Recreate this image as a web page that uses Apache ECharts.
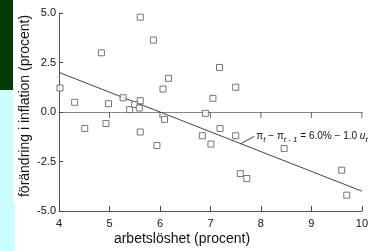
<!DOCTYPE html>
<html>
<head>
<meta charset="utf-8">
<script src="https://cdn.jsdelivr.net/npm/echarts@6/dist/echarts.min.js"></script>
<style>
  html, body { margin: 0; padding: 0; background: #fff; }
  #main { width: 371px; height: 251px; }
</style>
</head>
<body>
<div id="main"></div>
<script>
// arbetslöshet (procent) vs förändring i inflation (procent)
const unemployment = [4.02, 4.31, 4.51, 4.84, 4.93, 4.98, 5.27, 5.40, 5.50, 5.59, 5.61, 5.61, 5.61, 5.87, 5.94, 6.06,
  6.09, 6.17, 6.84, 6.90, 7.01, 7.05, 7.18, 7.19, 7.50, 7.50, 7.59, 7.72, 8.46, 9.60, 9.70]
const inflationChange = [1.21, 0.49, -0.83, 2.99, -0.58, 0.42, 0.72, 0.12, 0.38, 0.20, 0.57, 4.79, -1.01, 3.63, -1.69, 1.16,
  -0.37, 1.70, -1.20, -0.07, -1.62, 0.69, 2.25, -0.83, 1.25, -1.20, -3.11, -3.36, -1.84, -2.94, -4.20]
// regression: pi_t - pi_t-1 = 6.0% - 1.0 u_t
const fitX = [4, 10]
const fitY = [2.0, -4.0]
// leader from the line to the equation
const leaderX = [7.6, 7.87]
const leaderY = [-1.6, -1.23]
// tick marks hanging below the zero line
const zeroTicks = [5, 6, 7, 8, 9, 10]

const FONT = 'Liberation Sans, Arial, sans-serif'
const zip = (a, b) => a.map((v, i) => [v, b[i]])

const chart = echarts.init(document.getElementById('main'))
chart.setOption({
  animation: false,
  backgroundColor: '#fff',
  grid: { left: 59, right: 7, top: 13, bottom: 40 },
  graphic: [
    { type: 'rect', left: 0, top: 0, shape: { width: 13, height: 90 }, style: { fill: '#033a05' } },
    { type: 'rect', left: 0, top: 90, shape: { width: 13, height: 161 }, style: { fill: '#ccfdff' } },
    { type: 'rect', left: 13, top: 203, shape: { width: 2, height: 48 }, style: { fill: '#ccfdff' } },
    {
      type: 'text', x: 182, y: 239,
      style: { text: 'arbetslöshet (procent)', fontSize: 14, fontFamily: FONT, fill: '#111', align: 'center', verticalAlign: 'middle' }
    },
    {
      type: 'text', x: 25, y: 106, rotation: Math.PI / 2,
      style: { text: 'förändring i inflation (procent)', fontSize: 14, fontFamily: FONT, fill: '#111', align: 'center', verticalAlign: 'middle' }
    }
  ],
  xAxis: [
    {
      type: 'value', min: 4, max: 10, interval: 1, position: 'bottom',
      axisLine: { onZero: false, lineStyle: { color: '#555', width: 1 } },
      axisTick: { inside: true, length: 5, lineStyle: { color: '#444' } },
      axisLabel: { color: '#111', fontSize: 11, fontFamily: FONT, margin: 7 },
      splitLine: { show: false }
    },
    {
      type: 'value', min: 4, max: 10, interval: 1, position: 'top',
      axisLine: { onZero: true, lineStyle: { color: '#888', width: 1.2 } },
      axisTick: { show: false },
      axisLabel: { show: false },
      splitLine: { show: false }
    }
  ],
  yAxis: {
    type: 'value', min: -5, max: 5, interval: 2.5,
    axisLine: { show: true, onZero: false, lineStyle: { color: '#555', width: 1 } },
    axisTick: { show: true, inside: true, length: 4, lineStyle: { color: '#444' } },
    axisLabel: { color: '#111', fontSize: 11, fontFamily: FONT, margin: 3, formatter: v => v.toFixed(1) },
    splitLine: { show: false }
  },
  series: [
    {
      type: 'line', data: zip(fitX, fitY), showSymbol: false, symbol: 'none',
      lineStyle: { color: '#444', width: 1 }, silent: true
    },
    {
      type: 'line', data: zip(leaderX, leaderY), showSymbol: false, symbol: 'none',
      lineStyle: { color: '#444', width: 1 }, silent: true,
      endLabel: {
        show: true, distance: 2,
        formatter: '{n|π}{s|t}{n| − π}{s|t - 1}{n| = 6.0% − 1.0 }{i|u}{s|t}',
        rich: {
          n: { fontSize: 10, fontFamily: FONT, color: '#111', lineHeight: 14 },
          i: { fontSize: 10, fontFamily: FONT, fontStyle: 'italic', color: '#111', lineHeight: 14 },
          s: { fontSize: 8, fontFamily: FONT, fontStyle: 'italic', color: '#111', verticalAlign: 'bottom' }
        }
      }
    },
    {
      type: 'scatter', data: zeroTicks.map(v => [v, 0]), symbol: 'rect', symbolSize: [1, 6], symbolOffset: [0, 3],
      itemStyle: { color: '#444' }, silent: true, z: 3
    },
    {
      type: 'scatter', data: zip(unemployment, inflationChange), symbol: 'rect', symbolSize: 6,
      itemStyle: { color: '#fff', borderColor: '#555', borderWidth: 1 }, z: 5
    }
  ]
})
</script>
</body>
</html>
